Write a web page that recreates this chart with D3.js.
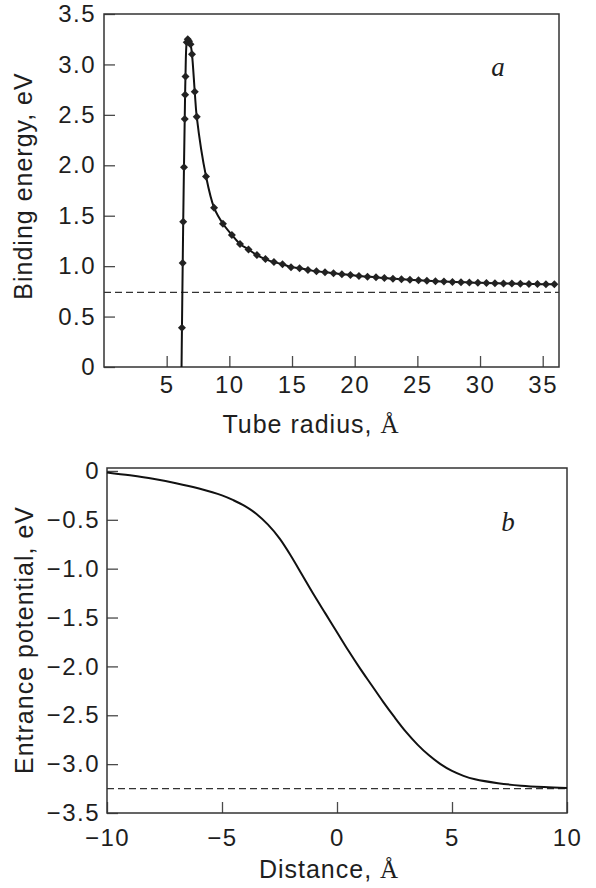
<!DOCTYPE html>
<html>
<head>
<meta charset="utf-8">
<script src="https://cdn.jsdelivr.net/npm/d3@7"></script>
<style>
  body { margin: 0; background: #fff; }
  text { font-family: "Liberation Sans", Arial, sans-serif; fill: #1e1e1e; }
  .tick text { font-size: 24px; letter-spacing: 1.5px; }
  .tick line { stroke: #4a4a4a; stroke-width: 1.3; }
  .title { font-size: 25px; letter-spacing: 1px; }
  .tag { font-family: "Liberation Serif", serif; font-style: italic; font-size: 27px; }
</style>
</head>
<body>
<div id="chart"></div>
<script>
/* global d3 */

// Panel a: binding energy vs tube radius (points + fitted curve)
const radius = [6.17, 6.22, 6.28, 6.32, 6.38, 6.44, 6.47, 6.50, 6.60, 6.68, 6.78, 6.90, 7.02, 7.24, 7.40,
  8.14, 8.78, 9.49, 10.2, 10.85, 11.53, 12.2, 12.88, 13.56, 14.24, 14.92, 15.6, 16.27, 16.95, 17.63,
  18.31, 18.98, 19.66, 20.34, 21.02, 21.7, 22.37, 23.05, 23.73, 24.41, 25.09, 25.76, 26.44, 27.12, 27.8,
  28.48, 29.15, 29.83, 30.51, 31.19, 31.87, 32.54, 33.22, 33.9, 34.58, 35.26, 35.93]
const energy = [-0.2, 0.39, 1.03, 1.44, 1.98, 2.46, 2.70, 2.88, 3.22, 3.25, 3.23, 3.20, 3.10, 2.73, 2.48,
  1.89, 1.58, 1.42, 1.31, 1.22, 1.165, 1.11, 1.07, 1.04, 1.02, 0.99, 0.98, 0.963, 0.95, 0.94,
  0.93, 0.92, 0.913, 0.903, 0.896, 0.889, 0.882, 0.876, 0.870, 0.865, 0.86, 0.855, 0.851, 0.847, 0.844,
  0.841, 0.838, 0.835, 0.833, 0.831, 0.829, 0.827, 0.825, 0.824, 0.822, 0.821, 0.82]
const energyLimit = 0.74
const radiusTicks = [5, 10, 15, 20, 25, 30, 35]
const energyTicks = [0, 0.5, 1.0, 1.5, 2.0, 2.5, 3.0, 3.5]

// Panel b: entrance potential vs distance
const distance = [-10, -9, -8, -7, -6, -5, -4.5, -4, -3.5, -3, -2.5, -2, -1.5, -1, -0.5, 0,
  0.5, 1, 1.5, 2, 2.5, 3, 3.5, 4, 4.5, 5, 5.5, 6, 7, 8, 9, 10]
const potential = [-0.015, -0.045, -0.08, -0.125, -0.18, -0.25, -0.30, -0.36, -0.44, -0.55, -0.69, -0.87, -1.07, -1.27, -1.46, -1.65,
  -1.84, -2.02, -2.19, -2.36, -2.52, -2.67, -2.80, -2.91, -3.00, -3.07, -3.12, -3.155, -3.195, -3.22, -3.235, -3.245]
const potentialLimit = -3.25
const distanceTicks = [-10, -5, 0, 5, 10]
const potentialTicks = [0, -0.5, -1.0, -1.5, -2.0, -2.5, -3.0, -3.5]

const width = 596,
  height = 888,
  tickLen = 11

let svg = d3.select('#chart')
  .append('svg')
  .attr('width', width)
  .attr('height', height)

let yFormat = d => d === 0 ? '0' : d3.format('.1f')(d)

// frame + inward ticks for one panel
let drawPanel = (p) => {
  let x = d3.scaleLinear().domain(p.xDomain).range([p.left, p.right])
  let y = d3.scaleLinear().domain(p.yDomain).range([p.bottom, p.top])

  svg.append('clipPath').attr('id', p.id)
    .append('rect')
    .attr('x', p.left).attr('y', p.top)
    .attr('width', p.right - p.left).attr('height', p.bottom - p.top)

  let gx = svg.append('g')
    .attr('transform', `translate(0,${p.bottom})`)
    .call(d3.axisBottom(x).tickValues(p.xTicks).tickSize(-tickLen).tickPadding(p.xPad).tickFormat(d3.format('d')))
  gx.select('.domain').remove()

  let gy = svg.append('g')
    .attr('transform', `translate(${p.left},0)`)
    .call(d3.axisLeft(y).tickValues(p.yTicks).tickSize(-tickLen).tickPadding(p.yPad).tickFormat(yFormat))
  gy.select('.domain').remove()

  svg.append('rect')
    .attr('x', p.left).attr('y', p.top)
    .attr('width', p.right - p.left).attr('height', p.bottom - p.top)
    .attr('fill', 'none')
    .attr('stroke', '#333')
    .attr('stroke-width', 1.5)

  // dashed asymptote
  svg.append('line')
    .attr('x1', p.left).attr('x2', p.right)
    .attr('y1', y(p.limit)).attr('y2', y(p.limit))
    .attr('stroke', '#333')
    .attr('stroke-width', 1.3)
    .attr('stroke-dasharray', '7,4')

  return {x, y}
}

// ---- panel a ----
let a = drawPanel({
  id: 'clipA', left: 104, right: 559, top: 14, bottom: 367,
  xDomain: [0, 36.3], yDomain: [0, 3.5],
  xTicks: radiusTicks, yTicks: energyTicks, xPad: 9, yPad: 8,
  limit: energyLimit
})

let ptsA = radius.map((r, i) => [r, energy[i]])

svg.append('path')
  .datum(ptsA)
  .attr('clip-path', 'url(#clipA)')
  .attr('fill', 'none')
  .attr('stroke', '#111')
  .attr('stroke-width', 2)
  .attr('d', d3.line().x(d => a.x(d[0])).y(d => a.y(d[1])).curve(d3.curveCatmullRom.alpha(0.5)))

svg.append('g')
  .attr('clip-path', 'url(#clipA)')
  .selectAll('path')
  .data(ptsA)
  .enter()
  .append('path')
  .attr('d', d3.symbol().type(d3.symbolSquare).size(32))
  .attr('transform', d => `translate(${a.x(d[0])},${a.y(d[1])}) rotate(45)`)
  .attr('fill', '#222')

// ---- panel b ----
let b = drawPanel({
  id: 'clipB', left: 107, right: 567, top: 468, bottom: 813,
  xDomain: [-10, 10], yDomain: [-3.5, 0.03],
  xTicks: distanceTicks, yTicks: potentialTicks, xPad: 16, yPad: 7,
  limit: potentialLimit
})

svg.append('path')
  .datum(distance.map((t, i) => [t, potential[i]]))
  .attr('fill', 'none')
  .attr('stroke', '#111')
  .attr('stroke-width', 2)
  .attr('d', d3.line().x(d => b.x(d[0])).y(d => b.y(d[1])).curve(d3.curveCatmullRom.alpha(0.5)))

// ---- titles ----
let xTitle = (cx, cy, label) => {
  let t = svg.append('text').attr('class', 'title')
    .attr('x', cx).attr('y', cy).attr('text-anchor', 'middle')
  t.append('tspan').text(label)
  t.append('tspan').text('Å').style('font-family', '"Liberation Serif", serif')
}
xTitle(311, 433, 'Tube radius, ')
xTitle(329, 878, 'Distance, ')

svg.append('text').attr('class', 'title')
  .attr('transform', 'translate(32,186) rotate(-90)')
  .attr('text-anchor', 'middle')
  .text('Binding energy, eV')

svg.append('text').attr('class', 'title')
  .attr('transform', 'translate(33,640) rotate(-90)')
  .attr('text-anchor', 'middle')
  .text('Entrance potential, eV')

svg.append('text').attr('class', 'tag').attr('x', 498).attr('y', 76).attr('text-anchor', 'middle').text('a')
svg.append('text').attr('class', 'tag').attr('x', 508).attr('y', 531).attr('text-anchor', 'middle').text('b')
</script>
</body>
</html>
